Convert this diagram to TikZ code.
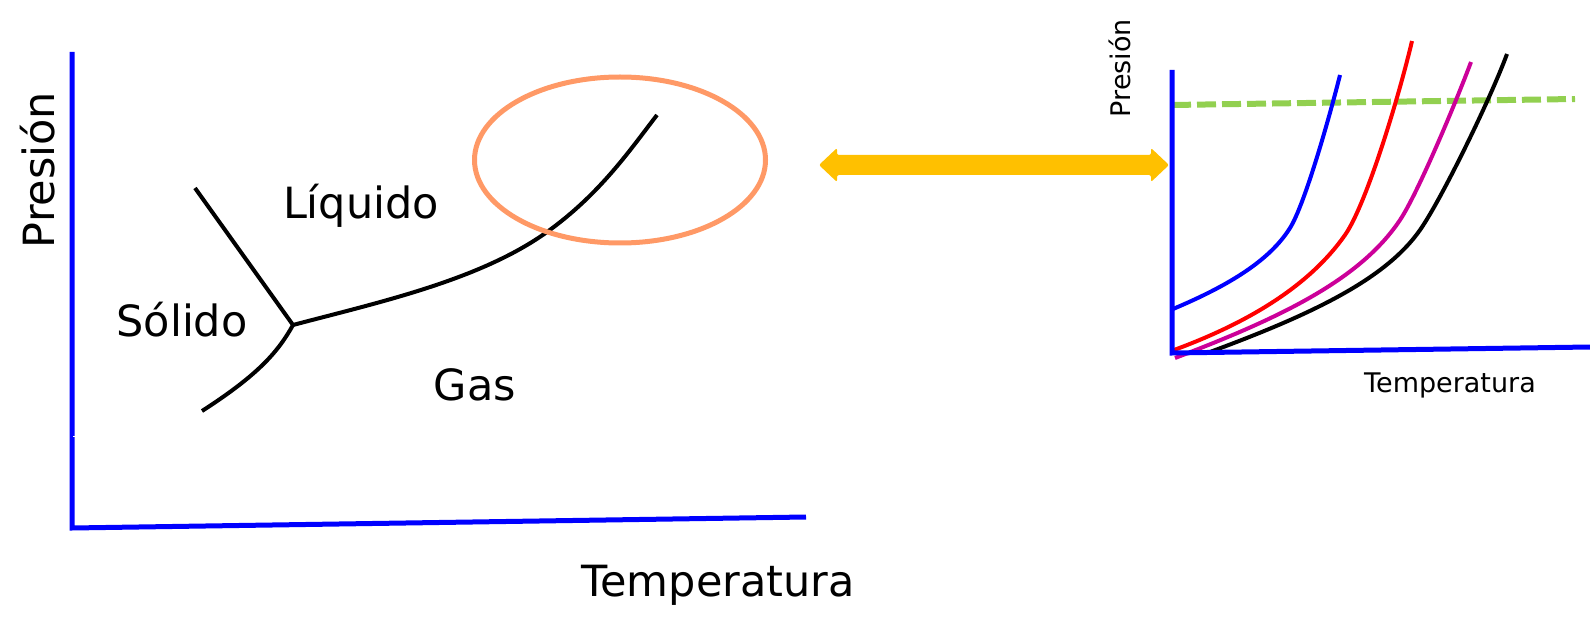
\documentclass[tikz,border=0pt]{standalone}
\usepackage{fontspec}
\setmainfont{DejaVu Sans}
\usetikzlibrary{shapes.geometric,calc}
\definecolor{axisblue}{HTML}{0000FF}
\definecolor{ringorange}{HTML}{FF9966}
\definecolor{arrowgold}{HTML}{FFC000}
\definecolor{dashgreen}{HTML}{92D050}
\definecolor{curvemag}{HTML}{CC0099}
\tikzset{
  axisline/.style={axisblue, line width=5pt},
  phaseline/.style={black, line width=4pt},
  bigtext/.style={font=\fontsize{43}{48}\selectfont, inner sep=0pt},
  smalltext/.style={font=\fontsize{27}{32}\selectfont, inner sep=0pt},
  vcurve/.style={line width=4pt},
}
\begin{document}
\begin{tikzpicture}[x=1pt,y=-1pt]
\useasboundingbox (0,0) rectangle (1590,620);
% ---------- left diagram ----------
\coordinate (lTop) at (72,52);
\coordinate (lOrig) at (72,528);
\coordinate (lRight) at (806,517);
\draw[axisline] (lTop) -- (lOrig) -- (lRight);
\draw[white, line width=1pt] (73,436) -- (75,436);

\coordinate (triple) at (293,325);
\coordinate (meltEnd) at (195,188);
\coordinate (sublEnd) at (202,411);
\coordinate (vapMid) at (547,232);
\coordinate (vapEnd) at (657,115);
\draw[phaseline] (meltEnd) -- (triple);
\draw[phaseline] (triple) .. controls (278,352) and (258,375) .. (sublEnd);
\draw[phaseline] (triple) .. controls (380,302) and (480,280) .. (vapMid)
  .. controls (600,194) and (630,150) .. (vapEnd);

\node[draw=ringorange, line width=5pt, ellipse, minimum width=291pt, minimum height=166pt] (ring) at (620,160) {};

\node[bigtext, rotate=90] (presL) at (38,170) {Presión};
\node[bigtext] (solido) at (182,320) {Sólido};
\node[bigtext] (liquido) at (361,206) {Líquido};
\node[bigtext] (gas) at (475,385) {Gas};
\node[bigtext] (tempL) at (718,585) {Temperatura};

% ---------- double arrow ----------
\coordinate (arrL) at (819,165);
\coordinate (arrR) at (1169,165);
\fill[arrowgold, rounded corners=2pt]
  (arrL) -- ($(arrL)+(18,-17)$) -- ($(arrL)+(18,-10)$) -- ($(arrR)+(-18,-10)$)
  -- ($(arrR)+(-18,-17)$) -- (arrR) -- ($(arrR)+(-18,17)$) -- ($(arrR)+(-18,10)$)
  -- ($(arrL)+(18,10)$) -- ($(arrL)+(18,17)$) -- cycle;

% ---------- right diagram ----------
\coordinate (rTop) at (1172,70);
\coordinate (rOrig) at (1172,353);
\coordinate (rRight) at (1590,347);
\coordinate (gStart) at (1172,105);
\coordinate (gEnd) at (1575,99);
\draw[dashgreen, line width=6pt, dash pattern=on 19pt off 6pt] (gStart) -- (gEnd);

\draw[axisblue, vcurve] (1173,309) .. controls (1230,285) and (1270,260) .. (1290,228)
  .. controls (1305,204) and (1330,115) .. (1340,75);
\draw[red, vcurve] (1174,350) .. controls (1250,322) and (1310,285) .. (1345,235)
  .. controls (1366,205) and (1398,100) .. (1412,41);
\draw[curvemag, vcurve] (1175,358) .. controls (1280,318) and (1360,280) .. (1400,220)
  .. controls (1418,193) and (1456,102) .. (1471,62);
\draw[black, vcurve] (1210,352) .. controls (1310,315) and (1385,280) .. (1420,230)
  .. controls (1441,200) and (1490,100) .. (1507,54);

\draw[axisline] (rTop) -- (rOrig) -- (rRight);

\node[smalltext, rotate=90] (presR) at (1120,68) {Presión};
\node[smalltext] (tempR) at (1450,385) {Temperatura};
\end{tikzpicture}
\end{document}
